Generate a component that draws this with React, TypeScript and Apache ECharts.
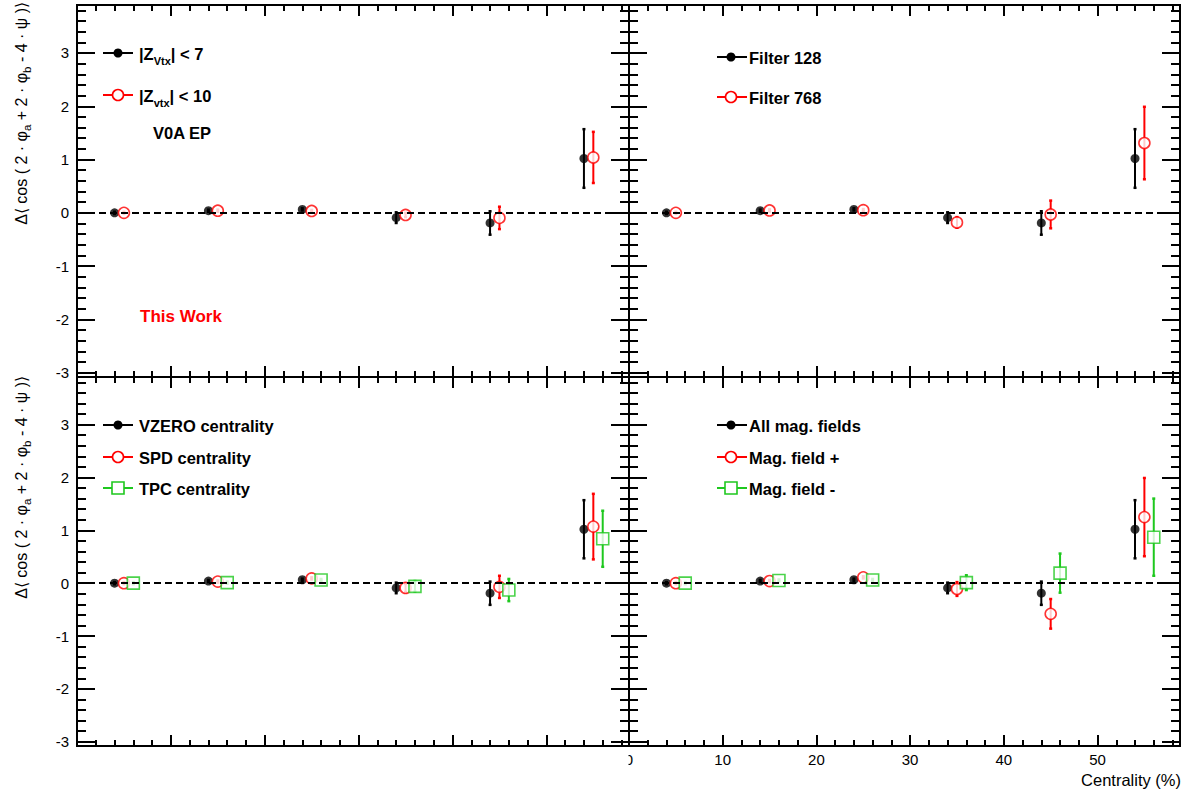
import React, { useEffect, useRef } from "react";
import * as echarts from "echarts";

// ---------- data ----------
const centralityDefault = [4, 14, 24, 34, 44, 54];
const centralityAlt1 = [5, 15, 25, 35, 45, 55];
const centralityAlt2 = [6, 16, 26, 36, 46, 56];

const defaultVal = [0.0, 0.04, 0.065, -0.09, -0.19, 1.02];
const defaultErr = [0.02, 0.02, 0.02, 0.1, 0.22, 0.55];

const zvtx10Val = [0.0, 0.04, 0.035, -0.04, -0.095, 1.04];
const zvtx10Err = [0.02, 0.02, 0.02, 0.04, 0.21, 0.48];

const filter768Val = [0.0, 0.045, 0.05, -0.18, -0.03, 1.31];
const filter768Err = [0.02, 0.02, 0.02, 0.1, 0.26, 0.68];

const spdVal = [0.0, 0.03, 0.09, -0.09, -0.07, 1.07];
const spdErr = [0.02, 0.02, 0.02, 0.08, 0.21, 0.62];

const tpcVal = [0.0, 0.01, 0.06, -0.06, -0.13, 0.84];
const tpcErr = [0.02, 0.02, 0.02, 0.1, 0.21, 0.53];

const magPlusVal = [0.0, 0.04, 0.11, -0.11, -0.58, 1.25];
const magPlusErr = [0.02, 0.02, 0.02, 0.13, 0.28, 0.74];

const magMinusVal = [0.0, 0.05, 0.06, 0.01, 0.19, 0.87];
const magMinusErr = [0.02, 0.02, 0.02, 0.14, 0.37, 0.73];

const xTickLabels = [0, 10, 20, 30, 40, 50];
const yTickLabels = [-3, -2, -1, 0, 1, 2, 3];

const X_MIN = 0;
const X_MAX = 58.8;
const Y_MIN = -3.08;
const Y_MAX = 3.9;

// ---------- styles ----------
const FONT = "'Liberation Sans', Arial, Helvetica, sans-serif";
const RED = "#ff0000";
const GREEN = "#1ec81e";

const markerStyles: Record<string, any> = {
  black: { symbol: "circle", symbolSize: 9, itemStyle: { color: "#000" }, bar: "#000" },
  red: {
    symbol: "circle",
    symbolSize: 11,
    itemStyle: { color: "#fff", borderColor: RED, borderWidth: 1.6 },
    bar: RED,
  },
  green: {
    symbol: "rect",
    symbolSize: 12,
    itemStyle: { color: "#fff", borderColor: GREEN, borderWidth: 1.6 },
    bar: GREEN,
  },
};

const panels = [
  {
    series: [
      { x: centralityDefault, y: defaultVal, e: defaultErr, kind: "black" },
      { x: centralityAlt1, y: zvtx10Val, e: zvtx10Err, kind: "red" },
    ],
  },
  {
    series: [
      { x: centralityDefault, y: defaultVal, e: defaultErr, kind: "black" },
      { x: centralityAlt1, y: filter768Val, e: filter768Err, kind: "red" },
    ],
  },
  {
    series: [
      { x: centralityDefault, y: defaultVal, e: defaultErr, kind: "black" },
      { x: centralityAlt1, y: spdVal, e: spdErr, kind: "red" },
      { x: centralityAlt2, y: tpcVal, e: tpcErr, kind: "green" },
    ],
  },
  {
    series: [
      { x: centralityDefault, y: defaultVal, e: defaultErr, kind: "black" },
      { x: centralityAlt1, y: magPlusVal, e: magPlusErr, kind: "red" },
      { x: centralityAlt2, y: magMinusVal, e: magMinusErr, kind: "green" },
    ],
  },
];

const grids = [
  { left: 77, top: 5, width: 552, height: 372 },
  { left: 629, top: 5, width: 551, height: 372 },
  { left: 77, top: 377, width: 552, height: 369 },
  { left: 629, top: 377, width: 551, height: 369 },
];

const legends = [
  {
    lx: 103, mx: 118, tx: 139,
    items: [
      { text: "{m||Z}{s|Vtx}{m|| < 7}", kind: "black", y: 53 },
      { text: "{m||Z}{s|vtx}{m|| < 10}", kind: "red", y: 95 },
    ],
  },
  {
    lx: 717, mx: 731, tx: 749,
    items: [
      { text: "{m|Filter 128}", kind: "black", y: 57 },
      { text: "{m|Filter 768}", kind: "red", y: 97 },
    ],
  },
  {
    lx: 103, mx: 118, tx: 139,
    items: [
      { text: "{m|VZERO centrality}", kind: "black", y: 425 },
      { text: "{m|SPD centrality}", kind: "red", y: 457 },
      { text: "{m|TPC centrality}", kind: "green", y: 488 },
    ],
  },
  {
    lx: 717, mx: 731, tx: 749,
    items: [
      { text: "{m|All mag. fields}", kind: "black", y: 425 },
      { text: "{m|Mag. field +}", kind: "red", y: 457 },
      { text: "{m|Mag. field -}", kind: "green", y: 488 },
    ],
  },
];

const yTitle =
  "{m|\u0394\u27e8 cos ( 2 \u00b7 \u03c6}{s|a}{m| + 2 \u00b7 \u03c6}{s|b}{m| - 4 \u00b7 \u03c8 )\u27e9}";

function buildOption() {
  const xAxis: any[] = [];
  const yAxis: any[] = [];
  const series: any[] = [];

  grids.forEach((_, g) => {
    const xCommon = (pos: string, showLabel: boolean) => ({
      type: "value",
      gridIndex: g,
      position: pos,
      min: X_MIN,
      max: X_MAX,
      interval: 10,
      axisLine: { show: false, onZero: false },
      splitLine: { show: false },
      axisTick: { show: true, inside: true, length: 11, lineStyle: { color: "#000", width: 2 } },
      minorTick: { show: true, splitNumber: 5, length: 6, lineStyle: { color: "#000", width: 2 } },
      axisLabel: {
        show: showLabel,
        margin: 6,
        fontFamily: FONT,
        fontSize: 15,
        color: "#000",
        formatter: (v: number) => (xTickLabels.includes(v) ? String(v) : ""),
      },
    });
    xAxis.push(xCommon("bottom", g === 3));
    xAxis.push(xCommon("top", false));

    const yCommon = (pos: string, showLabel: boolean) => ({
      type: "value",
      gridIndex: g,
      position: pos,
      min: Y_MIN,
      max: Y_MAX,
      splitNumber: 7,
      axisLine: { show: false, onZero: false },
      splitLine: { show: false },
      axisTick: { show: true, inside: true, length: 18, lineStyle: { color: "#000", width: 2 } },
      minorTick: { show: true, splitNumber: 5, length: 9, lineStyle: { color: "#000", width: 2 } },
      axisLabel: {
        show: showLabel,
        margin: 8,
        fontFamily: FONT,
        fontSize: 15,
        color: "#000",
        formatter: (v: number) => {
          const r = Math.round(v);
          return Math.abs(v - r) < 1e-6 && yTickLabels.includes(r) ? String(r) : "";
        },
      },
    });
    yAxis.push(yCommon("left", g === 0 || g === 2));
    yAxis.push(yCommon("right", false));

    panels[g].series.forEach((s, si) => {
      const st = markerStyles[s.kind];
      const errData = s.x.map((x, i) => [x, s.y[i], s.e[i]]);
      const custom: any = {
        type: "custom",
        xAxisIndex: g * 2,
        yAxisIndex: g * 2,
        z: 2,
        silent: true,
        data: errData,
        encode: { x: 0, y: 1 },
        renderItem: (params: any, api: any) => {
          const x = api.value(0);
          const y = api.value(1);
          const e = api.value(2);
          const p1 = api.coord([x, y - e]);
          const p2 = api.coord([x, y + e]);
          const color = st.bar;
          return {
            type: "group",
            children: [
              {
                type: "line",
                shape: { x1: p1[0], y1: p1[1], x2: p2[0], y2: p2[1] },
                style: { stroke: color, lineWidth: 2 },
              },
              {
                type: "line",
                shape: { x1: p1[0] - 1.5, y1: p1[1], x2: p1[0] + 1.5, y2: p1[1] },
                style: { stroke: color, lineWidth: 2.5 },
              },
              {
                type: "line",
                shape: { x1: p2[0] - 1.5, y1: p2[1], x2: p2[0] + 1.5, y2: p2[1] },
                style: { stroke: color, lineWidth: 2.5 },
              },
            ],
          };
        },
      };
      if (si === 0) {
        custom.markLine = {
          silent: true,
          symbol: "none",
          label: { show: false },
          lineStyle: { type: [7, 4], color: "#000", width: 2 },
          data: [{ yAxis: 0 }],
        };
      }
      series.push(custom);
      series.push({
        type: "scatter",
        xAxisIndex: g * 2,
        yAxisIndex: g * 2,
        z: 3,
        silent: true,
        symbol: st.symbol,
        symbolSize: st.symbolSize,
        itemStyle: st.itemStyle,
        data: s.x.map((x, i) => [x, s.y[i]]),
      });
    });
  });

  const graphic: any[] = [];
  const richLegend = {
    m: { fontFamily: FONT, fontSize: 16.5, fontWeight: "bold", fill: "#000", lineHeight: 24, verticalAlign: "middle" },
    s: { fontFamily: FONT, fontSize: 11, fontWeight: "bold", fill: "#000", lineHeight: 11, verticalAlign: "bottom" },
  };
  legends.forEach((lg) => {
    lg.items.forEach((it) => {
      const st = markerStyles[it.kind];
      graphic.push({
        type: "line",
        shape: { x1: lg.lx, y1: it.y, x2: lg.lx + 30, y2: it.y },
        style: { stroke: st.bar, lineWidth: 2 },
        z: 10,
      });
      if (st.symbol === "circle") {
        graphic.push({
          type: "circle",
          shape: { cx: lg.mx, cy: it.y, r: st.symbolSize / 2 },
          style: {
            fill: st.itemStyle.color,
            stroke: st.itemStyle.borderColor || st.itemStyle.color,
            lineWidth: st.itemStyle.borderWidth || 0,
          },
          z: 11,
        });
      } else {
        const sz = st.symbolSize;
        graphic.push({
          type: "rect",
          shape: { x: lg.mx - sz / 2, y: it.y - sz / 2, width: sz, height: sz },
          style: { fill: "#fff", stroke: st.itemStyle.borderColor, lineWidth: st.itemStyle.borderWidth },
          z: 11,
        });
      }
      graphic.push({
        type: "text",
        x: lg.tx,
        y: it.y + 1,
        z: 11,
        style: {
          text: it.text,
          rich: richLegend,
          verticalAlign: "middle",
          align: "left",
        },
      });
    });
  });

  graphic.push({
    type: "text",
    x: 153,
    y: 133,
    z: 11,
    style: { text: "V0A EP", fontFamily: FONT, fontSize: 16.5, fontWeight: "bold", fill: "#000", verticalAlign: "middle" },
  });
  graphic.push({
    type: "text",
    x: 140,
    y: 316,
    z: 11,
    style: { text: "This Work", fontFamily: FONT, fontSize: 17, fontWeight: "bold", fill: RED, verticalAlign: "middle" },
  });

  const richTitle = {
    m: { fontFamily: FONT, fontSize: 16, fill: "#000", lineHeight: 23, verticalAlign: "middle" },
    s: { fontFamily: FONT, fontSize: 11.5, fill: "#000", lineHeight: 11.5, verticalAlign: "bottom" },
  };
  [2, 376].forEach((yy) => {
    graphic.push({
      type: "text",
      x: 10,
      y: yy,
      rotation: Math.PI / 2,
      z: 11,
      style: { text: yTitle, rich: richTitle, align: "right", verticalAlign: "top" },
    });
  });

  graphic.push({
    type: "text",
    x: 1181,
    y: 780,
    z: 11,
    style: {
      text: "Centrality (%)",
      fontFamily: FONT,
      fontSize: 16.5,
      fill: "#000",
      align: "right",
      verticalAlign: "middle",
    },
  });
  // left pad overlaps the left half of the right pad's "0" label
  graphic.push({
    type: "rect",
    shape: { x: 612, y: 750, width: 16.5, height: 22 },
    style: { fill: "#fff" },
    z: 100,
  });

  return {
    animation: false,
    backgroundColor: "#fff",
    grid: grids.map((g) => ({
      ...g,
      show: true,
      borderColor: "#000",
      borderWidth: 2,
      backgroundColor: "transparent",
      containLabel: false,
      outerBoundsMode: "none",
    })),
    xAxis,
    yAxis,
    series,
    graphic,
  };
}

export default function App() {
  const ref = useRef<HTMLDivElement>(null);
  useEffect(() => {
    if (!ref.current) return;
    const chart = echarts.init(ref.current, undefined, { renderer: "svg" });
    chart.setOption(buildOption() as any);
    return () => chart.dispose();
  }, []);
  return (
    <div
      ref={ref}
      style={{ position: "absolute", left: 0, top: 0, width: 1190, height: 790, background: "#fff" }}
    />
  );
}
